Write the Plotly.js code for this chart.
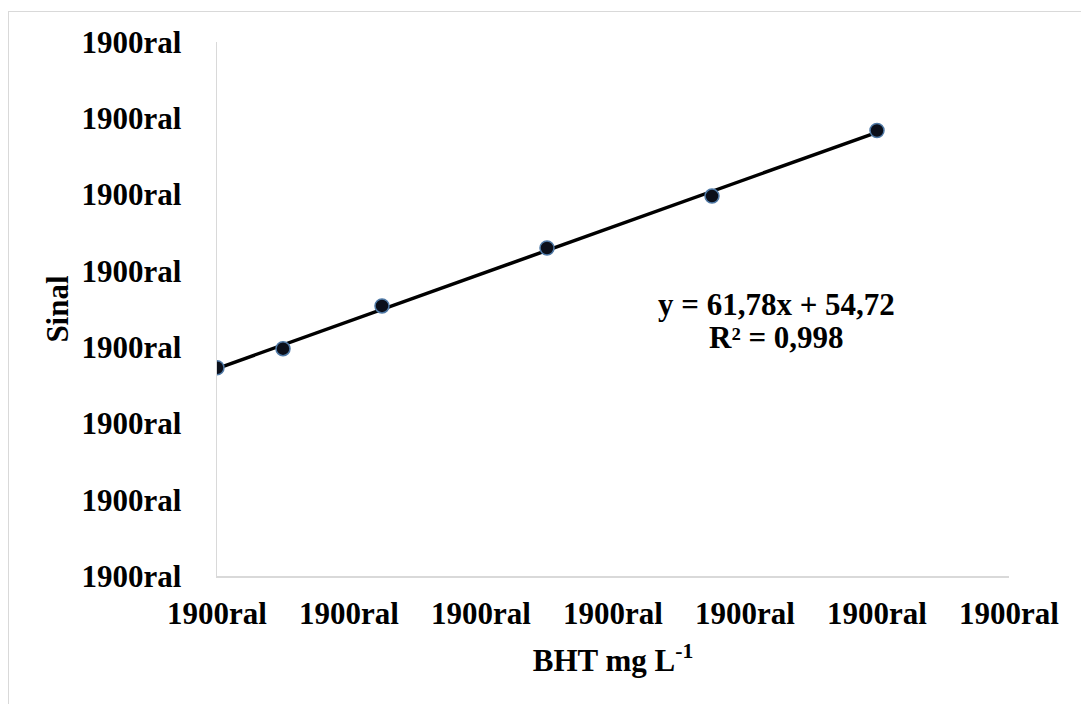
<!DOCTYPE html>
<html>
<head>
<meta charset="utf-8">
<script src="https://cdn.plot.ly/plotly-3.0.1.min.js"></script>
<style>
html,body{margin:0;padding:0;background:#fff;}
#frame{position:absolute;left:8px;top:11px;width:1200px;height:800px;border-left:1.5px solid #d9d9d9;border-top:1.5px solid #d9d9d9;pointer-events:none;z-index:5;}
#chart{position:absolute;left:0;top:0;width:1081px;height:704px;}
</style>
</head>
<body>
<div id="chart"></div>
<div id="frame"></div>
<script>
// Data
var xValues = [0, 0.5, 1.25, 2.5, 3.75, 5];
var yValues = [273, 298, 354, 430, 498, 584];
var xTickVals = [0, 1, 2, 3, 4, 5, 6];
var yTickVals = [0, 100, 200, 300, 400, 500, 600, 700];
var tickLabel = "1900ral";
var xTickText = xTickVals.map(function(){return tickLabel;});
var yTickText = yTickVals.map(function(){return tickLabel;});
var equationText = "y = 61,78x + 54,72";
var r2Text = "R² = 0,998";

// Linear trend line (least squares) from the data
var n = xValues.length, sx = 0, sy = 0, sxx = 0, sxy = 0;
for (var i = 0; i < n; i++) { sx += xValues[i]; sy += yValues[i]; sxx += xValues[i]*xValues[i]; sxy += xValues[i]*yValues[i]; }
var slope = (n*sxy - sx*sy) / (n*sxx - sx*sx);
var intercept = (sy - slope*sx) / n;
var xMin = Math.min.apply(null, xValues), xMax = Math.max.apply(null, xValues);
var trendX = [xMin, xMax];
var trendY = trendX.map(function(x){return intercept + slope*x;});

var font = "Liberation Serif, Times New Roman, serif";

var traces = [
  {x: trendX, y: trendY, mode: "lines", line: {color: "#000000", width: 3.5}, hoverinfo: "skip", showlegend: false},
  {x: xValues, y: yValues, mode: "markers", marker: {size: 14, color: "#0b0f1a", line: {color: "#4f79a6", width: 1.5}}, showlegend: false}
];

var layout = {
  width: 1081, height: 704,
  paper_bgcolor: "#ffffff", plot_bgcolor: "#ffffff",
  margin: {l: 216.5, r: 72, t: 42, b: 128, pad: 0},
  showlegend: false,
  font: {family: font, color: "#000000", size: 31},
  xaxis: {
    range: [0, 6], tickmode: "array", tickvals: xTickVals, ticktext: xTickText,
    showgrid: false, zeroline: false, showline: true, linecolor: "#d9d9d9", linewidth: 1.5,
    ticks: "", ticklabelstandoff: 9,
    tickfont: {family: font, size: 31, color: "#000000", weight: "bold"},
    title: {text: "<b>BHT mg L<sup>-1</sup></b>", font: {family: font, size: 31, color: "#000000"}, standoff: 19},
    automargin: false
  },
  yaxis: {
    range: [0, 700], tickmode: "array", tickvals: yTickVals, ticktext: yTickText,
    showgrid: false, zeroline: false, showline: true, linecolor: "#d9d9d9", linewidth: 1.5,
    ticks: "", ticklabelstandoff: 28,
    tickfont: {family: font, size: 31, color: "#000000", weight: "bold"},
    title: {text: "<b>Sinal</b>", font: {family: font, size: 31, color: "#000000"}, standoff: 3},
    automargin: false
  },
  annotations: [
    {xref: "paper", yref: "paper", x: 0.706, y: 0.5075, text: "<b>" + equationText + "</b>", showarrow: false, xanchor: "center", yanchor: "middle", font: {family: font, size: 31, color: "#000000"}},
    {xref: "paper", yref: "paper", x: 0.706, y: 0.4457, text: "<b>" + r2Text + "</b>", showarrow: false, xanchor: "center", yanchor: "middle", font: {family: font, size: 31, color: "#000000"}}
  ]
};

Plotly.newPlot("chart", traces, layout, {displayModeBar: false, staticPlot: true});
</script>
</body>
</html>
